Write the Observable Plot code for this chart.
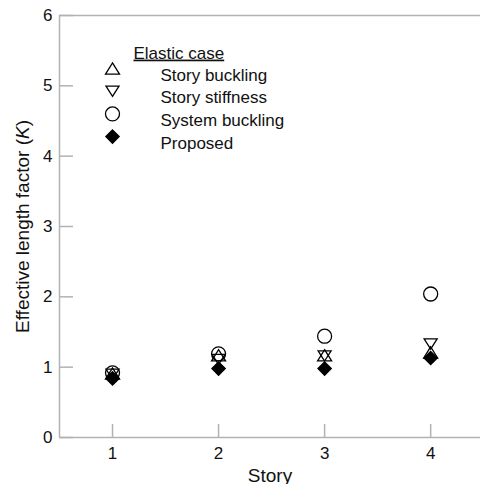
<!DOCTYPE html>
<html>
<head>
<meta charset="utf-8">
<script src="https://cdn.jsdelivr.net/npm/d3@7"></script>
<script src="https://cdn.jsdelivr.net/npm/@observablehq/plot@0.6"></script>
<style>
  html, body { margin: 0; padding: 0; background: #fff; }
</style>
</head>
<body>
<div id="chart"></div>
<script>
// Effective length factor K per story, for each method (elastic case)
const stories = [1, 2, 3, 4];
const seriesNames = ["Story buckling", "Story stiffness", "System buckling", "Proposed"];
const storyBuckling  = [0.91, 1.17, 1.17, 1.21];
const storyStiffness = [0.90, 1.11, 1.16, 1.33];
const systemBuckling = [0.92, 1.19, 1.44, 2.04];
const proposed       = [0.84, 0.98, 0.98, 1.13];
const seriesValues = [storyBuckling, storyStiffness, systemBuckling, proposed];
const legendTitle = "Elastic case";
const xTicks = [1, 2, 3, 4];
const yTicks = [0, 1, 2, 3, 4, 5, 6];
const xLabel = "Story";
const yLabel = "Effective length factor (K)";

// Marker shapes (size is r²π as passed by Plot.dot)
const triUp = {draw(ctx, size) {
  const r = Math.sqrt(size / Math.PI);
  const h = r * 0.8;
  ctx.moveTo(0, -h); ctx.lineTo(r, h); ctx.lineTo(-r, h); ctx.closePath();
}};
const triDown = {draw(ctx, size) {
  const r = Math.sqrt(size / Math.PI) * 0.93;
  const h = r * 0.78;
  ctx.moveTo(0, h); ctx.lineTo(r, -h); ctx.lineTo(-r, -h); ctx.closePath();
}};
const ring = {draw(ctx, size) {
  const r = Math.sqrt(size / Math.PI);
  ctx.moveTo(r, 0); ctx.arc(0, 0, r, 0, 2 * Math.PI); ctx.closePath();
}};
const diamond = {draw(ctx, size) {
  const r = Math.sqrt(size / Math.PI) * 0.95;
  ctx.moveTo(0, -r); ctx.lineTo(r, 0); ctx.lineTo(0, r); ctx.lineTo(-r, 0); ctx.closePath();
}};
const symbols = [triUp, triDown, ring, diamond];
const fills = ["none", "none", "none", "#000"];

const W = 480, H = 484;
const mL = 59, mR = 0, mT = 15, mB = 47;
const innerW = W - mL - mR, innerH = H - mT - mB;
const axisGray = "#b2b2b2";
const font = "'Liberation Sans', Arial, Helvetica, sans-serif";

const marks = [
  // frame: left, bottom and top edges
  Plot.ruleX([0.5], {stroke: axisGray, strokeWidth: 1.5}),
  Plot.ruleY([0, 6], {stroke: axisGray, strokeWidth: 1.5}),
  // inward tick marks
  Plot.tickY(yTicks, {y: d => d, stroke: axisGray, strokeWidth: 1.5, insetRight: innerW - 14}),
  Plot.tickX(xTicks, {x: d => d, stroke: axisGray, strokeWidth: 1.5, insetTop: innerH - 13}),
  Plot.axisY(yTicks, {tickSize: 0, tickPadding: 7, fontSize: 17, tickFormat: d3.format("d")}),
  Plot.axisX(xTicks, {tickSize: 0, tickPadding: 9, fontSize: 17, tickFormat: d3.format("d")}),
  // axis titles
  Plot.text([xLabel], {frameAnchor: "bottom", dy: 44, lineAnchor: "bottom", fontSize: 19}),
  Plot.text([yLabel], {frameAnchor: "left", dx: -37, rotate: -90, textAnchor: "middle", fontSize: 19})
];

// data points
seriesValues.forEach((vals, i) => {
  marks.push(Plot.dot(stories, {
    x: d => d,
    y: (d, j) => vals[j],
    symbol: symbols[i],
    r: 7,
    fill: fills[i],
    stroke: "#000",
    strokeWidth: 1.3
  }));
});

// legend
marks.push(Plot.text([legendTitle], {
  frameAnchor: "top-left", dx: 74, dy: 31, textAnchor: "start", fontSize: 17
}));
seriesNames.forEach((name, i) => {
  const dy = 53 + 22.7 * i;
  marks.push(Plot.dot([name], {
    frameAnchor: "top-left", dx: 53, dy,
    symbol: symbols[i], r: 7, fill: fills[i], stroke: "#000", strokeWidth: 1.3
  }));
  marks.push(Plot.text([name], {
    frameAnchor: "top-left", dx: 101, dy, textAnchor: "start", fontSize: 17
  }));
});

const chart = Plot.plot({
  width: W,
  height: H,
  marginLeft: mL,
  marginRight: mR,
  marginTop: mT,
  marginBottom: mB,
  style: {fontFamily: font, color: "#111", background: "#fff", overflow: "visible"},
  x: {domain: [0.5, 4.47], axis: null},
  y: {domain: [0, 6], axis: null},
  marks
});

// underline the legend heading and italicize the K in the y title
d3.select(chart).selectAll("text").each(function() {
  const t = d3.select(this);
  const s = t.text();
  if (s === legendTitle) {
    t.style("text-decoration", "underline");
  } else if (s === yLabel) {
    t.text(null);
    t.append("tspan").text("Effective length factor (");
    t.append("tspan").style("font-style", "italic").text("K");
    t.append("tspan").text(")");
  }
});

document.getElementById("chart").appendChild(chart);
</script>
</body>
</html>
